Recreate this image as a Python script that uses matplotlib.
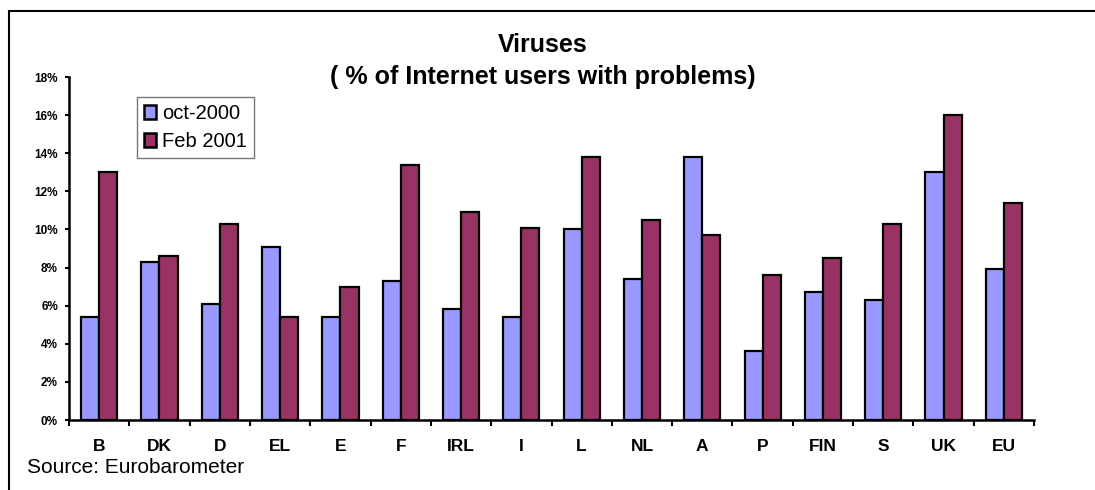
import matplotlib
matplotlib.use("Agg")
import matplotlib.pyplot as plt
from matplotlib.patches import Rectangle
import numpy as np

# Countries and shares of internet users reporting virus problems (%)
countries = ['B', 'DK', 'D', 'EL', 'E', 'F', 'IRL', 'I', 'L', 'NL', 'A', 'P', 'FIN', 'S', 'UK', 'EU']
oct_2000 = [5.4, 8.3, 6.1, 9.1, 5.4, 7.3, 5.8, 5.4, 10.0, 7.4, 13.8, 3.6, 6.7, 6.3, 13.0, 7.9]
feb_2001 = [13.0, 8.6, 10.3, 5.4, 7.0, 13.4, 10.9, 10.1, 13.8, 10.5, 9.7, 7.6, 8.5, 10.3, 16.0, 11.4]
y_ticks = [0, 2, 4, 6, 8, 10, 12, 14, 16, 18]

plt.rcParams['font.family'] = ['Liberation Sans', 'DejaVu Sans']

fig = plt.figure(figsize=(10.95, 4.9), dpi=100)
ax = fig.add_axes([69 / 1095, 70 / 490, 965 / 1095, 343 / 490])

x = np.arange(len(countries))
w = 0.3
ax.bar(x - w / 2, oct_2000, w, color='#9999FF', edgecolor='black', linewidth=1.6, label='oct-2000')
ax.bar(x + w / 2, feb_2001, w, color='#993366', edgecolor='black', linewidth=1.6, label='Feb 2001')

ax.set_xlim(-0.5, len(countries) - 0.5)
ax.set_ylim(0, 18)

# category labels at centres, tick marks between groups
ax.set_xticks(x)
ax.set_xticklabels(countries, fontsize=12.5, fontweight='bold')
ax.tick_params(axis='x', which='major', length=0, pad=14)
ax.set_xticks(np.arange(-0.5, len(countries)), minor=True)
ax.tick_params(axis='x', which='minor', length=4, width=1.5, direction='out')

ax.set_yticks(y_ticks)
ax.set_yticklabels([f'{v}%' for v in y_ticks], fontsize=8.5, fontweight='bold')
ax.tick_params(axis='y', length=3, width=1.5, pad=5)

for side in ['top', 'right']:
    ax.spines[side].set_visible(False)
for side in ['left', 'bottom']:
    ax.spines[side].set_linewidth(1.8)

leg = ax.legend(loc='upper left', bbox_to_anchor=(137 / 1095, 1 - 97 / 490),
                bbox_transform=fig.transFigure, fontsize=14.5, frameon=True,
                fancybox=False, edgecolor='#555555', borderpad=0.35,
                handlelength=0.6, handleheight=0.65, handletextpad=0.3,
                labelspacing=0.45, borderaxespad=0)
leg.get_frame().set_linewidth(1.0)
for h in leg.legend_handles:
    h.set_linewidth(1.8)

fig.text(543 / 1095, 1 - 45 / 490, 'Viruses', ha='center', va='center',
         fontsize=18, fontweight='bold')
fig.text(543 / 1095, 1 - 77 / 490, '( % of Internet users with problems)', ha='center',
         va='center', fontsize=18, fontweight='bold')
fig.text(27 / 1095, 1 - 467 / 490, 'Source: Eurobarometer', ha='left', va='center',
         fontsize=15)

# outer chart border (extends past the right and bottom edges)
fig.patches.append(Rectangle((9 / 1095, -0.1), 1.2, 1 - 11 / 490 + 0.1,
                             transform=fig.transFigure, fill=False,
                             edgecolor='black', linewidth=1.5))

fig.savefig('out.png', dpi=100)
